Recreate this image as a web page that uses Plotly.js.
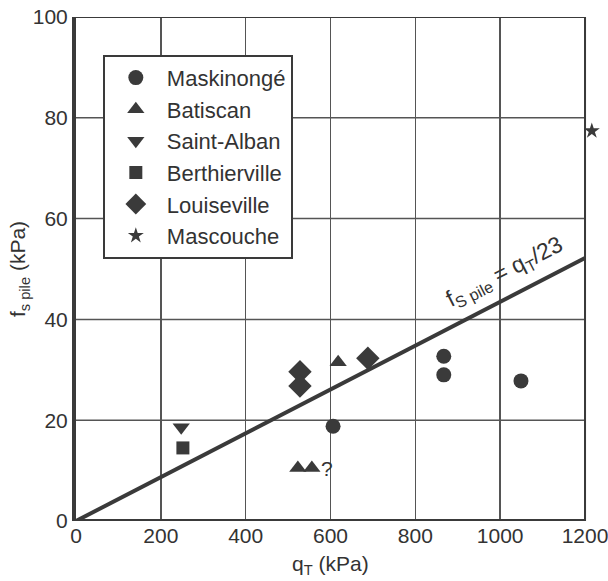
<!DOCTYPE html>
<html>
<head>
<meta charset="utf-8">
<script src="https://cdn.plot.ly/plotly-3.0.1.min.js"></script>
<style>html,body{margin:0;padding:0;background:#fff;}#chart{width:608px;height:581px;}</style>
</head>
<body>
<div id="chart"></div>
<script>
// Data
const maskinongeX = [606, 867, 867, 1049];
const maskinongeY = [18.8, 32.7, 29.0, 27.8];
const batiscanX = [618, 523, 556];
const batiscanY = [31.5, 10.5, 10.5];
const saintAlbanX = [248];
const saintAlbanY = [18.6];
const berthiervilleX = [252];
const berthiervilleY = [14.5];
const louisevilleX = [528, 528, 688];
const louisevilleY = [29.6, 26.8, 32.3];
const mascoucheX = [1216];
const mascoucheY = [77.4];
const fitX = [0, 1200];
const fitDivisor = 23;
const xTicks = [0, 200, 400, 600, 800, 1000, 1200];
const yTicks = [0, 20, 40, 60, 80, 100];

const xMax = 1200, yMax = 100, xView = 1240;
const ink = '#3a3a3a';
const grid = '#555';
const fam = 'Liberation Sans, Arial, sans-serif';
const font = {family: fam, size: 21, color: '#333'};
const legFont = {family: fam, size: 22, color: '#333'};

function pts(name, x, y, symbol, size) {
  return {type: 'scatter', mode: 'markers', name: name, x: x, y: y, cliponaxis: false,
    marker: {symbol: symbol, size: size, color: ink, line: {width: 0}}};
}

const traces = [
  {type: 'scatter', mode: 'lines', x: fitX, y: fitX.map(v => v / fitDivisor), showlegend: false,
   line: {color: ink, width: 4}, hoverinfo: 'skip'},
  pts('Maskinongé', maskinongeX, maskinongeY, 'circle', 15),
  pts('Batiscan', batiscanX, batiscanY, 'triangle-up', 15),
  pts('Saint-Alban', saintAlbanX, saintAlbanY, 'triangle-down', 15),
  pts('Berthierville', berthiervilleX, berthiervilleY, 'square', 13),
  pts('Louiseville', louisevilleX, louisevilleY, 'diamond', 18),
  pts('Mascouche', mascoucheX, mascoucheY, 'star', 12)
];

// horizontal gridlines (only across the 0..1200 frame) and frame lines
const shapes = yTicks.filter(v => v > 0 && v < yMax).map(v => ({
  type: 'line', xref: 'x', yref: 'y', x0: 0, x1: xMax, y0: v, y1: v, layer: 'below',
  line: {color: grid, width: 1.5}}));
shapes.push({type: 'line', xref: 'x', yref: 'y', x0: 0, x1: xMax, y0: 0, y1: 0, line: {color: ink, width: 4}});
shapes.push({type: 'line', xref: 'x', yref: 'y', x0: 0, x1: xMax, y0: yMax, y1: yMax, line: {color: ink, width: 2}});
shapes.push({type: 'line', xref: 'x', yref: 'y', x0: xMax, x1: xMax, y0: 0, y1: yMax, line: {color: ink, width: 2}});

const layout = {
  width: 608, height: 581,
  margin: {l: 76, r: 6, t: 17, b: 60},
  paper_bgcolor: '#fff', plot_bgcolor: '#fff',
  font: font,
  showlegend: true,
  legend: {x: 0.051, y: 0.925, xanchor: 'left', yanchor: 'top', bgcolor: '#fff',
    bordercolor: ink, borderwidth: 2, font: legFont, tracegroupgap: 0, itemsizing: 'trace', itemwidth: 52},
  xaxis: {range: [0, xView], tickvals: xTicks, ticks: '', showgrid: true, gridcolor: grid, gridwidth: 1.5,
    zeroline: false, showline: false, tickfont: font, ticklen: 0, ticklabeloverflow: 'allow'},
  yaxis: {range: [0, yMax], tickvals: yTicks, ticks: '', showgrid: false,
    zeroline: false, showline: true, linecolor: ink, linewidth: 4, tickfont: font,
    title: {text: 'f<sub>s pile</sub> (kPa)', font: font, standoff: 2}},
  shapes: shapes,
  annotations: [
    {x: 1011, y: 49.3, xref: 'x', yref: 'y', text: 'f<sub>S pile</sub> = q<sub>T</sub>/23', showarrow: false,
     textangle: -27, font: {family: fam, size: 23, color: '#333'}},
    {x: 592, y: 10.5, xref: 'x', yref: 'y', text: '?', showarrow: false, font: font},
    {x: 600, y: -0.087, xref: 'x', yref: 'paper', yanchor: 'middle', text: 'q<sub>T</sub> (kPa)',
     showarrow: false, font: font}
  ]
};

Plotly.newPlot('chart', traces, layout, {displayModeBar: false, staticPlot: true});
</script>
</body>
</html>
